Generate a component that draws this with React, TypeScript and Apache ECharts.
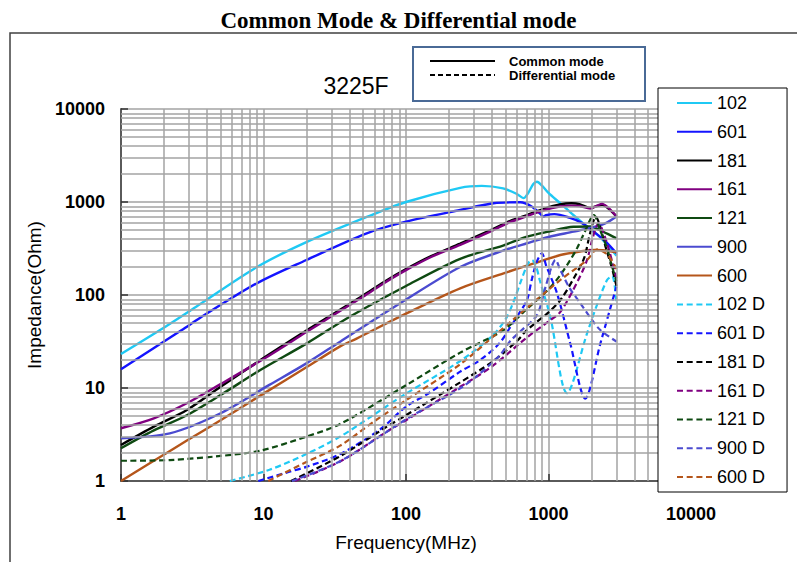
import React, { useEffect, useRef } from "react";
import * as echarts from "echarts";

// ---------- data (frequency MHz, impedance Ohm) ----------
const seriesNames = ["102", "601", "181", "161", "121", "900", "600", "102 D", "601 D", "181 D", "161 D", "121 D", "900 D", "600 D"];
const seriesColors = ["#1fc9f4", "#1414ff", "#000000", "#800080", "#0f4a12", "#4b4bd0", "#b5561b", "#1fc9f4", "#1414ff", "#000000", "#800080", "#0f4a12", "#4b4bd0", "#b5561b"];

const cm102: number[][] = [[1, 23.2], [1.88, 42], [3.6, 80], [9, 200], [20, 370], [53, 690], [100, 1000], [240, 1420], [340, 1490], [480, 1400], [600, 1220], [668, 1100], [720, 1250], [780, 1550], [830, 1650], [900, 1500], [1000, 1250], [1211, 968], [1500, 720], [1864, 542], [2300, 420], [3000, 265]];
const cm601: number[][] = [[1, 15.9], [2.67, 42], [3.6, 57], [9, 134], [20, 238], [53, 460], [100, 614], [240, 820], [412, 968], [634, 993], [766, 890], [880, 740], [925, 695], [960, 720], [1100, 740], [1400, 680], [1700, 600], [2000, 500], [2500, 380], [3000, 281]];
const cm181: number[][] = [[1, 2.44], [1.7, 3.84], [2.9, 5.8], [5, 10.3], [10, 21], [20, 41.5], [30, 61], [50, 99], [70, 138], [100, 190], [150, 262], [240, 356], [400, 505], [540, 628], [700, 720], [925, 845], [1200, 940], [1450, 970], [1650, 950], [1965, 865], [2200, 905], [2376, 935], [2600, 865], [3000, 700]];
const cm161: number[][] = [[1, 3.69], [1.7, 4.72], [2.9, 6.85], [5, 11], [10, 20.5], [20, 40], [30, 59], [50, 96], [70, 134], [100, 185], [150, 256], [240, 346], [400, 490], [540, 610], [700, 700], [925, 815], [1200, 895], [1450, 915], [1650, 905], [1965, 850], [2200, 915], [2376, 955], [2600, 880], [3000, 700]];
const cm121: number[][] = [[1, 2.25], [1.7, 3.5], [2.9, 5.1], [5, 8.4], [9.5, 15.6], [20, 30], [40, 58], [100, 125], [240, 245], [480, 340], [706, 424], [1000, 480], [1500, 542], [1965, 545], [2400, 480], [3000, 407]];
const cm900: number[][] = [[1, 2.88], [2.2, 3.25], [5, 5.35], [11, 10.8], [20, 18.4], [34.5, 31.5], [91, 81.5], [240, 200], [480, 300], [706, 360], [1000, 420], [1500, 480], [2000, 530], [2500, 590], [3000, 700]];
const cm600: number[][] = [[1, 1], [1.7, 1.65], [2.9, 2.72], [5, 4.5], [10, 8.7], [20, 16.7], [34.5, 28], [45, 34], [100, 63], [240, 118], [484, 171], [800, 220], [1211, 269], [1700, 295], [2100, 305], [2400, 303], [3000, 288]];

const dm102: number[][] = [[5.8, 1], [11, 1.32], [20, 1.95], [34.5, 3.0], [60, 5.2], [100, 8.7], [240, 19.5], [400, 36], [500, 55], [569, 85], [650, 150], [720, 220], [766, 238], [820, 200], [868, 145], [1030, 58], [1349, 8.8], [1864, 38.7], [2200, 80], [2576, 145], [2800, 160], [3000, 80]];
const dm601: number[][] = [[9.2, 1], [15, 1.25], [20, 1.42], [34.5, 1.95], [66, 3.6], [100, 6.3], [148, 9], [240, 15], [332, 20], [450, 30], [539, 45], [620, 63], [706, 88], [766, 150], [830, 230], [899, 281], [960, 210], [1148, 104], [1422, 30], [1811, 7.7], [2311, 30], [2700, 70], [3000, 123]];
const dm181: number[][] = [[15.6, 1], [34.5, 1.85], [73.5, 3.84], [100, 5.1], [240, 11.5], [400, 19], [601, 32], [706, 42], [1000, 65], [1211, 88], [1500, 150], [1780, 250], [1950, 450], [2150, 695], [2300, 550], [2500, 340], [2800, 190], [3000, 125]];
const dm161: number[][] = [[16.6, 1], [34.5, 1.62], [73.5, 3.4], [100, 4.5], [240, 10.3], [400, 17], [706, 35], [1000, 52], [1211, 66], [1600, 140], [1864, 238], [2050, 420], [2250, 590], [2450, 450], [2700, 280], [3000, 150]];
const dm121: number[][] = [[1, 1.65], [2.2, 1.68], [5, 1.86], [9.5, 2.12], [20, 3.0], [34.5, 4.1], [100, 10.7], [240, 24], [484, 42], [700, 70], [1000, 115], [1211, 164], [1422, 238], [1585, 318], [1800, 480], [2080, 725], [2300, 500], [2576, 318], [2800, 200], [3000, 140]];
const dm900: number[][] = [[15.8, 1], [35, 1.65], [100, 4.6], [254, 10.5], [450, 22], [539, 32], [650, 42], [830, 61], [950, 120], [1050, 200], [1117, 238], [1211, 186], [1400, 120], [1672, 81.5], [2000, 55], [2311, 42], [3000, 31.5]];
const dm600: number[][] = [[10.8, 1], [20, 1.6], [34.5, 2.4], [60, 4.4], [100, 7.4], [240, 18], [412, 36], [700, 72], [1211, 145], [1864, 238], [2200, 310], [2600, 270], [3000, 190]];

const seriesData = [cm102, cm601, cm181, cm161, cm121, cm900, cm600, dm102, dm601, dm181, dm161, dm121, dm900, dm600];

const decades = [1, 10, 100, 1000];
const minorMultipliers = [2, 3, 4, 5, 6, 7, 8, 9];

const SANS = "'Liberation Sans', Arial, sans-serif";
const SERIF = "'Liberation Serif', 'Times New Roman', serif";

const SOLID_ICON = "path://M0,0H35V2H0Z";
const DASH_ICON = "path://M0,0H6V2H0Z M9.7,0H15.7V2H9.7Z M19.4,0H25.4V2H19.4Z M29,0H35V2H29Z";

export default function App() {
  const ref = useRef<HTMLDivElement>(null);
  useEffect(() => {
    if (!ref.current) return;
    const chart = echarts.init(ref.current, undefined, { renderer: "svg" });
    const minorVals: number[] = [];
    decades.forEach((d) => minorMultipliers.forEach((m) => minorVals.push(d * m)));
    const gridLines = [
      ...minorVals.map((v) => ({ xAxis: v })),
      ...minorVals.map((v) => ({ yAxis: v })),
    ];
    const axisCommon = {
      type: "log",
      logBase: 10,
      min: 1,
      max: 10000,
      axisLine: { show: true, onZero: false, lineStyle: { color: "#5a5a5a", width: 2 } },
      axisTick: { show: true, inside: true, length: 7, lineStyle: { color: "#333", width: 1.5 } },
      splitLine: { show: true, lineStyle: { color: "#a3a3a3", width: 1.5 } },
      minorTick: { show: false },
      minorSplitLine: { show: false },
    };
    const lineSeries = seriesNames.map((name, i) => ({
      name,
      type: "line",
      data: seriesData[i],
      showSymbol: false,
      symbol: "none",
      smooth: 0.3,
      z: 3,
      lineStyle: { color: seriesColors[i], width: i < 7 ? 2.4 : 2.2, type: i < 7 ? "solid" : [6, 3.5] },
      itemStyle: { color: seriesColors[i] },
      emphasis: { disabled: true },
    }));
    const option = {
      animation: false,
      backgroundColor: "#ffffff",
      title: {
        text: "Common Mode & Differential mode",
        left: "center",
        top: 4,
        textStyle: { fontFamily: SERIF, fontWeight: "bold", fontSize: 23, color: "#000" },
      },
      grid: { left: 121, top: 109, width: 570, height: 372, containLabel: false },
      xAxis: {
        ...axisCommon,
        name: "Frequency(MHz)",
        nameLocation: "middle",
        nameGap: 52,
        nameTextStyle: { fontFamily: SANS, fontSize: 19, color: "#000" },
        axisLabel: {
          margin: 24,
          fontFamily: SANS,
          fontWeight: "bold",
          fontSize: 18,
          color: "#000",
          formatter: (v: number) => String(Math.round(v)),
        },
      },
      yAxis: {
        ...axisCommon,
        name: "Impedance(Ohm)",
        nameLocation: "middle",
        nameRotate: 90,
        nameGap: 70,
        nameTextStyle: { fontFamily: SANS, fontSize: 19, color: "#000" },
        axisLabel: {
          margin: 16,
          fontFamily: SANS,
          fontWeight: "bold",
          fontSize: 18,
          color: "#000",
          formatter: (v: number) => String(Math.round(v)),
        },
      },
      legend: {
        data: seriesNames.map((n, i) => ({ name: n, icon: i < 7 ? SOLID_ICON : DASH_ICON })),
        orient: "vertical",
        left: 658,
        top: 88,
        z: 20,
        padding: [6, 22, 6, 19],
        itemWidth: 35,
        itemHeight: 2,
        itemGap: 10.77,
        selectedMode: false,
        backgroundColor: "#ffffff",
        borderColor: "#000000",
        borderWidth: 1,
        borderRadius: 0,
        textStyle: { fontFamily: SANS, fontSize: 18, color: "#000", lineHeight: 18 },
      },
      graphic: [
        {
          type: "rect",
          z: 0,
          shape: { x: 10, y: 33, width: 800, height: 540 },
          style: { fill: "none", stroke: "#404040", lineWidth: 1.5 },
          silent: true,
        },
        {
          type: "rect",
          z: 30,
          shape: { x: 413, y: 47, width: 232, height: 54 },
          style: { fill: "#ffffff", stroke: "#4a6a96", lineWidth: 2 },
          silent: true,
        },
        {
          type: "line",
          z: 31,
          shape: { x1: 430, y1: 61, x2: 495, y2: 61 },
          style: { stroke: "#000", lineWidth: 2 },
        },
        {
          type: "line",
          z: 31,
          shape: { x1: 430, y1: 75, x2: 495, y2: 75 },
          style: { stroke: "#000", lineWidth: 2, lineDash: [5, 3] },
        },
        {
          type: "text",
          z: 31,
          x: 509,
          y: 61,
          style: { text: "Common mode", fontFamily: SANS, fontSize: 13, fontWeight: "bold", fill: "#000", verticalAlign: "middle" },
        },
        {
          type: "text",
          z: 31,
          x: 509,
          y: 75,
          style: { text: "Differential mode", fontFamily: SANS, fontSize: 13, fontWeight: "bold", fill: "#000", verticalAlign: "middle" },
        },
        {
          type: "text",
          z: 31,
          x: 356,
          y: 86,
          style: { text: "3225F", fontFamily: SANS, fontSize: 23, fill: "#000", align: "center", verticalAlign: "middle" },
        },
      ],
      series: [
        {
          type: "line",
          name: "__grid",
          data: [],
          z: 1,
          silent: true,
          markLine: {
            silent: true,
            symbol: ["none", "none"],
            label: { show: false },
            animation: false,
            lineStyle: { color: "#a3a3a3", width: 1.5, type: "solid" },
            emphasis: { disabled: true },
            data: gridLines,
          },
        },
        ...lineSeries,
      ],
    };
    chart.setOption(option as any);
    return () => chart.dispose();
  }, []);
  return (
    <div
      ref={ref}
      style={{ position: "fixed", left: 0, top: 0, width: 797, height: 562 }}
    />
  );
}
